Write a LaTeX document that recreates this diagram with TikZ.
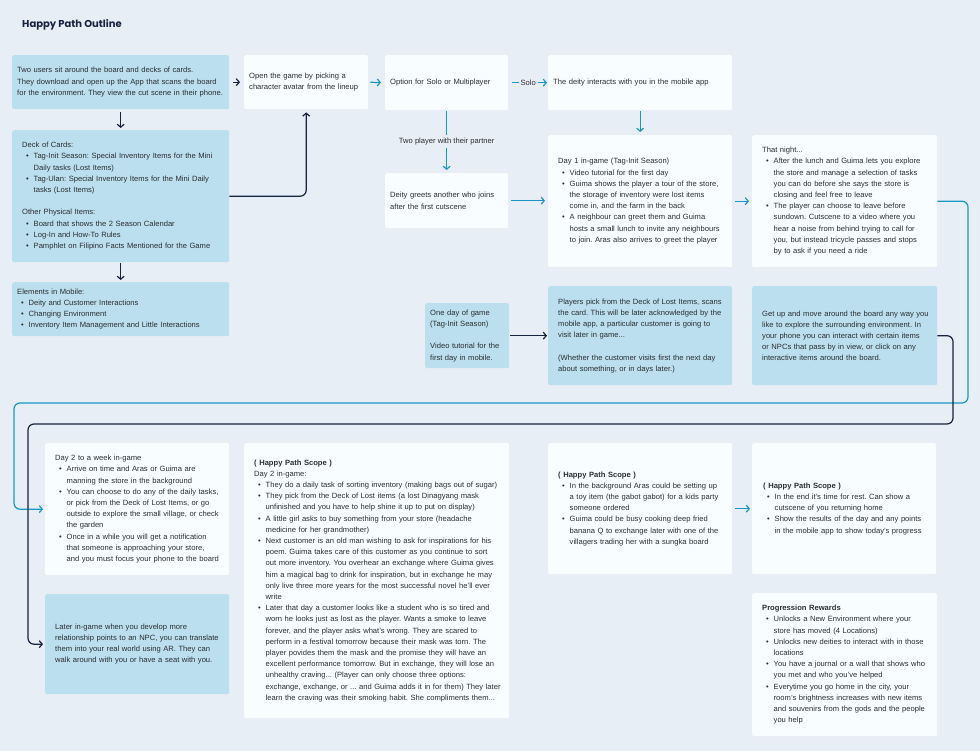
\documentclass[tikz,border=0pt]{standalone}
\usepackage{fontspec}
\setmainfont{Liberation Sans}
\newfontfamily\titlefont{Poppins}[UprightFont=* Bold]
\usetikzlibrary{arrows.meta}
\definecolor{bg}{HTML}{E8EEF6}
\definecolor{lblue}{HTML}{BBDFEE}
\definecolor{wbox}{HTML}{F8FDFF}
\definecolor{arrblue}{HTML}{1A97C5}
\definecolor{navy}{HTML}{16233F}
\definecolor{textc}{HTML}{2B2D31}
\setlength{\parindent}{0pt}
\setlength{\parskip}{0pt}
\frenchspacing
\newcommand{\itm}[1]{\par\hangindent=11.5pt\hangafter=1\noindent\hbox to 11.5pt{\hspace{4pt}\textbullet\hfil}{\let\\\newline#1}\par}
\newcommand{\gapline}{\par\vspace{11.2pt}}
\newcommand{\card}[8]{%
  \node[#2, minimum width=#5pt, minimum height=#6pt] (#1) at (#3,#4) {};
  \node[tx, text width=#5pt] (#1t) at ([xshift=#7pt]#1.west) {\frenchspacing #8};}
\tikzset{
  boxl/.style={rectangle, rounded corners=2pt, fill=lblue, draw=none, anchor=north west, inner sep=0pt},
  boxw/.style={boxl, fill=wbox},
  tx/.style={anchor=west, inner sep=0pt, align=left, text=textc, font=\fontsize{7.6}{11.2}\selectfont},
  darr/.style={draw=navy, line width=1.2pt, -{Straight Barb[length=3pt,width=7pt]}},
  barr/.style={draw=arrblue, line width=1.2pt, -{Straight Barb[length=3pt,width=7pt]}},
  lab/.style={fill=bg, inner xsep=2pt, inner ysep=3pt, text=textc, font=\fontsize{7.6}{11.2}\selectfont}
}
\begin{document}
\begin{tikzpicture}[x=1pt,y=-1pt]
\fill[bg] (0,0) rectangle (980,751);
\useasboundingbox (0,0) rectangle (980,751);

\node[anchor=base west, text=navy, font=\titlefont\fontsize{10}{12}\selectfont, inner sep=0pt] (title) at (22,28) {Happy Path Outline};

% row 1
\card{b1}{boxl}{12}{55}{217}{54}{5}{Two users sit around the board and decks of cards.\\ They download and open up the App that scans the board\\ for the environment. They view the cut scene in their phone.}
\card{b2}{boxw}{244}{55}{124}{54}{5}{Open the game by picking a\\ character avatar from the lineup}
\card{b3}{boxw}{385}{55}{123}{55}{5}{Option for Solo or Multiplayer}
\card{b4}{boxw}{548}{55}{184}{55}{5}{The deity interacts with you in the mobile app}

% row 2
\card{b11}{boxl}{12}{130}{217}{132}{10}{Deck of Cards:
\itm{Tag-Init Season: Special Inventory Items for the Mini\\ Daily tasks (Lost Items)}
\itm{Tag-Ulan: Special Inventory Items for the Mini Daily\\ tasks (Lost Items)}
\vspace{11.2pt}Other Physical Items:
\itm{Board that shows the 2 Season Calendar}
\itm{Log-In and How-To Rules}
\itm{Pamphlet on Filipino Facts Mentioned for the Game}}
\card{b6}{boxw}{385}{173}{123}{55}{5}{Deity greets another who joins\\ after the first cutscene}
\card{b5}{boxw}{548}{135}{184}{132}{10}{Day 1 in-game (Tag-Init Season)
\itm{Video tutorial for the first day}
\itm{Guima shows the player a tour of the store,\\ the storage of inventory were lost items\\ come in, and the farm in the back}
\itm{A neighbour can greet them and Guima\\ hosts a small lunch to invite any neighbours\\ to join. Aras also arrives to greet the player}}
\card{b7}{boxw}{752}{135}{185}{132}{10}{That night...
\itm{After the lunch and Guima lets you explore\\ the store and manage a selection of tasks\\ you can do before she says the store is\\ closing and feel free to leave}
\itm{The player can choose to leave before\\ sundown. Cutscene to a video where you\\ hear a noise from behind trying to call for\\ you, but instead tricycle passes and stops\\ by to ask if you need a ride}}

% row 3
\card{b12}{boxl}{12}{282}{217}{54}{5}{Elements in Mobile:
\itm{Deity and Customer Interactions}
\itm{Changing Environment}
\itm{Inventory Item Management and Little Interactions}}
\card{b9}{boxl}{425}{303}{84}{65}{5}{One day of game\\ (Tag-Init Season)
\gapline Video tutorial for the\\ first day in mobile.}
\card{b10}{boxl}{548}{286}{184}{99}{10}{Players pick from the Deck of Lost Items, scans\\ the card. This will be later acknowledged by the\\ mobile app, a particular customer is going to\\ visit later in game...
\gapline (Whether the customer visits first the next day\\ about something, or in days later.)}
\card{b8}{boxl}{752}{286}{185}{99}{10}{Get up and move around the board any way you\\ like to explore the surrounding environment. In\\ your phone you can interact with certain items\\ or NPCs that pass by in view, or click on any\\ interactive items around the board.}

% row 4
\card{b13}{boxw}{45}{443}{184}{132}{10}{Day 2 to a week in-game
\itm{Arrive on time and Aras or Guima are\\ manning the store in the background}
\itm{You can choose to do any of the daily tasks,\\ or pick from the Deck of Lost Items, or go\\ outside to explore the small village, or check\\ the garden}
\itm{Once in a while you will get a notification\\ that someone is approaching your store,\\ and you must focus your phone to the board}}
\card{b15}{boxw}{244}{443}{265}{275}{10}{\textbf{( Happy Path Scope )}\\ Day 2 in-game:
\itm{They do a daily task of sorting inventory (making bags out of sugar)}
\itm{They pick from the Deck of Lost items (a lost Dinagyang mask\\ unfinished and you have to help shine it up to put on display)}
\itm{A little girl asks to buy something from your store (headache\\ medicine for her grandmother)}
\itm{Next customer is an old man wishing to ask for inspirations for his\\ poem. Guima takes care of this customer as you continue to sort\\ out more inventory. You overhear an exchange where Guima gives\\ him a magical bag to drink for inspiration, but in exchange he may\\ only live three more years for the most successful novel he’ll ever\\ write}
\itm{Later that day a customer looks like a student who is so tired and\\ worn he looks just as lost as the player. Wants a smoke to leave\\ forever, and the player asks what’s wrong. They are scared to\\ perform in a festival tomorrow because their mask was torn. The\\ player povides them the mask and the promise they will have an\\ excellent performance tomorrow. But in exchange, they will lose an\\ unhealthy craving... (Player can only choose three options:\\ exchange, exchange, or ... and Guima adds it in for them) They later\\ learn the craving was their smoking habit. She compliments them...}}
\card{b16}{boxw}{548}{443}{184}{131}{10}{\textbf{( Happy Path Scope )}
\itm{In the background Aras could be setting up\\ a toy item (the gabot gabot) for a kids party\\ someone ordered}
\itm{Guima could be busy cooking deep fried\\ banana Q to exchange later with one of the\\ villagers trading her with a sungka board}}
\card{b17}{boxw}{752}{443}{184}{131}{11}{\textbf{( Happy Path Scope )}
\itm{In the end it’s time for rest. Can show a\\ cutscene of you returning home}
\itm{Show the results of the day and any points\\ in the mobile app to show today’s progress}}

% row 5
\card{b14}{boxl}{45}{594}{184}{100}{10}{Later in-game when you develop more\\ relationship points to an NPC, you can translate\\ them into your real world using AR. They can\\ walk around with you or have a seat with you.}
\card{b18}{boxw}{752}{593}{185}{143}{10}{\textbf{Progression Rewards}
\itm{Unlocks a New Environment where your\\ store has moved (4 Locations)}
\itm{Unlocks new deities to interact with in those\\ locations}
\itm{You have a journal or a wall that shows who\\ you met and who you’ve helped}
\itm{Everytime you go home in the city, your\\ room’s brightness increases with new items\\ and souvenirs from the gods and the people\\ you help}}

% connectors
\draw[darr, shorten <=4pt, shorten >=4pt] (b1.east) -- (b2.west);
\draw[barr, shorten <=2pt, shorten >=4pt] (b2.east) -- (b3.west);
\draw[barr, shorten <=4pt, shorten >=1pt] (b3.east) -- node[lab] (solo) {Solo} (b4.west);
\draw[barr, shorten <=1pt, shorten >=3pt] (b3.south) -- node[lab] (twop) {Two player with their partner} (b6.north);
\draw[barr, shorten <=1pt, shorten >=3pt] (b4.south) -- (b5.north);
\draw[barr, shorten <=3pt, shorten >=3pt] (b6.east) -- (b6.east -| b5.west);
\draw[barr, shorten <=3pt, shorten >=3pt] (b5.east) -- (b7.west);
\draw[darr, shorten <=1pt, shorten >=1pt] (b9.east) -- (b9.east -| b10.west);
\draw[barr, shorten <=3pt, shorten >=2pt] (b16.east) -- (b17.west);
\draw[darr, shorten <=3pt, shorten >=2pt] (b1.south) -- (b11.north);
\draw[darr, shorten <=1pt, shorten >=2pt] (b11.south) -- (b12.north);
\draw[darr, rounded corners=6pt, shorten >=3pt] (b11.east) -| (b2.south);

\coordinate (r1) at (968,403);
\coordinate (l1) at (14,403);
\draw[barr, rounded corners=6pt, shorten >=2pt] (b7.east) -- (b7.east -| r1) -- (r1) -- (l1) -- (l1 |- b13.west) -- (b13.west);
\coordinate (r2) at (953,424);
\coordinate (l2) at (28,424);
\draw[darr, rounded corners=6pt, shorten >=2pt] (b8.east) -- (b8.east -| r2) -- (r2) -- (l2) -- (l2 |- b14.west) -- (b14.west);
\end{tikzpicture}
\end{document}
